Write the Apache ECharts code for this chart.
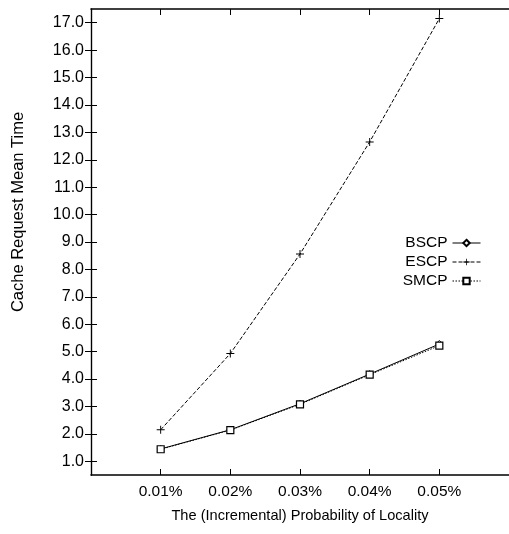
<!DOCTYPE html>
<html>
<head>
    <meta charset="utf-8">
    <title>Cache Request Mean Time</title>
    <script src="https://cdn.jsdelivr.net/npm/echarts@6/dist/echarts.min.js"></script>
</head>
<body style="margin:0;background:#fff;">
<style type="text/css">
.chart_box{width: 509px; height: 534px;}
</style>
    <div class="chart_box" id="cache"></div>
    <script type="text/javascript">
        // data
        var probs = [0.01, 0.02, 0.03, 0.04, 0.05];
        var bscp = [1.45, 2.15, 3.10, 4.18, 5.28];
        var escp = [2.15, 4.93, 8.56, 12.65, 17.15];
        var smcp = [1.44, 2.14, 3.08, 4.16, 5.22];
        var yTicks = [1, 2, 3, 4, 5, 6, 7, 8, 9, 10, 11, 12, 13, 14, 15, 16, 17];

        var FONT = '"Liberation Sans", Arial, sans-serif';
        var plusPath = 'path://M4.4,0h1.2v10h-1.2zM0,4.4h10v1.2h-10z';

        function pairs(ys) {
            var out = [];
            for (var i = 0; i < probs.length; i++) {
                out.push([probs[i], ys[i]]);
            }
            return out;
        }

        var chart = echarts.init(document.getElementById('cache'));
        chart.setOption({
            animation: false,
            grid: {left: 91, right: -2, top: 9, bottom: 59},
            // y axis title sits a bit above the axis middle in the original
            graphic: [{
                type: 'text',
                x: 18,
                y: 212,
                rotation: Math.PI / 2,
                style: {
                    text: 'Cache Request Mean Time',
                    font: '16.5px "Liberation Sans", Arial, sans-serif',
                    fill: '#000',
                    align: 'center',
                    verticalAlign: 'middle'
                }
            }],
            legend: {
                orient: 'vertical',
                right: 23,
                top: 230,
                align: 'right',
                itemWidth: 28,
                itemHeight: 8,
                itemGap: 3,
                lineStyle: {width: 1},
                textStyle: {fontFamily: FONT, fontSize: 15.5, color: '#000'},
                data: ['BSCP', 'ESCP', 'SMCP']
            },
            xAxis: [{
                type: 'value',
                min: 0,
                max: 0.06,
                name: 'The (Incremental) Probability of Locality',
                nameLocation: 'middle',
                nameGap: 33,
                nameTextStyle: {fontFamily: FONT, fontSize: 14.6, color: '#000'},
                axisLine: {lineStyle: {color: '#000', width: 1.6}},
                axisTick: {inside: true, length: 6, customValues: probs, lineStyle: {color: '#000'}},
                axisLabel: {
                    customValues: probs,
                    fontFamily: FONT, fontSize: 15.5, color: '#000', margin: 9,
                    formatter: function (v) { return v.toFixed(2) + '%'; }
                },
                splitLine: {show: false}
            }, {
                type: 'value',
                position: 'top',
                min: 0,
                max: 0.06,
                axisLine: {lineStyle: {color: '#000', width: 1.6}},
                axisTick: {inside: true, length: 6, customValues: probs, lineStyle: {color: '#000'}},
                axisLabel: {show: false},
                splitLine: {show: false}
            }],
            yAxis: [{
                type: 'value',
                min: 0.5,
                max: 17.5,
                axisLine: {show: true, lineStyle: {color: '#000', width: 1.2}},
                axisTick: {show: true, inside: true, length: 6, customValues: yTicks, lineStyle: {color: '#000'}},
                axisLabel: {
                    customValues: yTicks,
                    fontFamily: FONT, fontSize: 16, color: '#000', margin: 7,
                    formatter: function (v) { return v.toFixed(1); }
                },
                splitLine: {show: false}
            }, {
                type: 'value',
                position: 'right',
                min: 0.5,
                max: 17.5,
                axisLine: {show: true, lineStyle: {color: '#000', width: 1.2}},
                axisTick: {show: true, inside: true, length: 6, customValues: yTicks, lineStyle: {color: '#000'}},
                axisLabel: {show: false},
                splitLine: {show: false}
            }],
            series: [{
                name: 'BSCP',
                type: 'line',
                data: pairs(bscp),
                symbol: 'diamond',
                symbolSize: 7,
                itemStyle: {color: '#fff', borderColor: '#000', borderWidth: 1},
                lineStyle: {color: '#000', width: 1, type: 'solid'}
            }, {
                name: 'ESCP',
                type: 'line',
                data: pairs(escp),
                symbol: plusPath,
                symbolSize: 8,
                itemStyle: {color: '#000'},
                lineStyle: {color: '#000', width: 1, type: [4, 2]}
            }, {
                name: 'SMCP',
                type: 'line',
                data: pairs(smcp),
                symbol: 'rect',
                symbolSize: 7,
                itemStyle: {color: '#fff', borderColor: '#000', borderWidth: 1.2},
                lineStyle: {color: '#000', width: 1, type: [1.5, 1.5]}
            }]
        });
    </script>
</body>
</html>
